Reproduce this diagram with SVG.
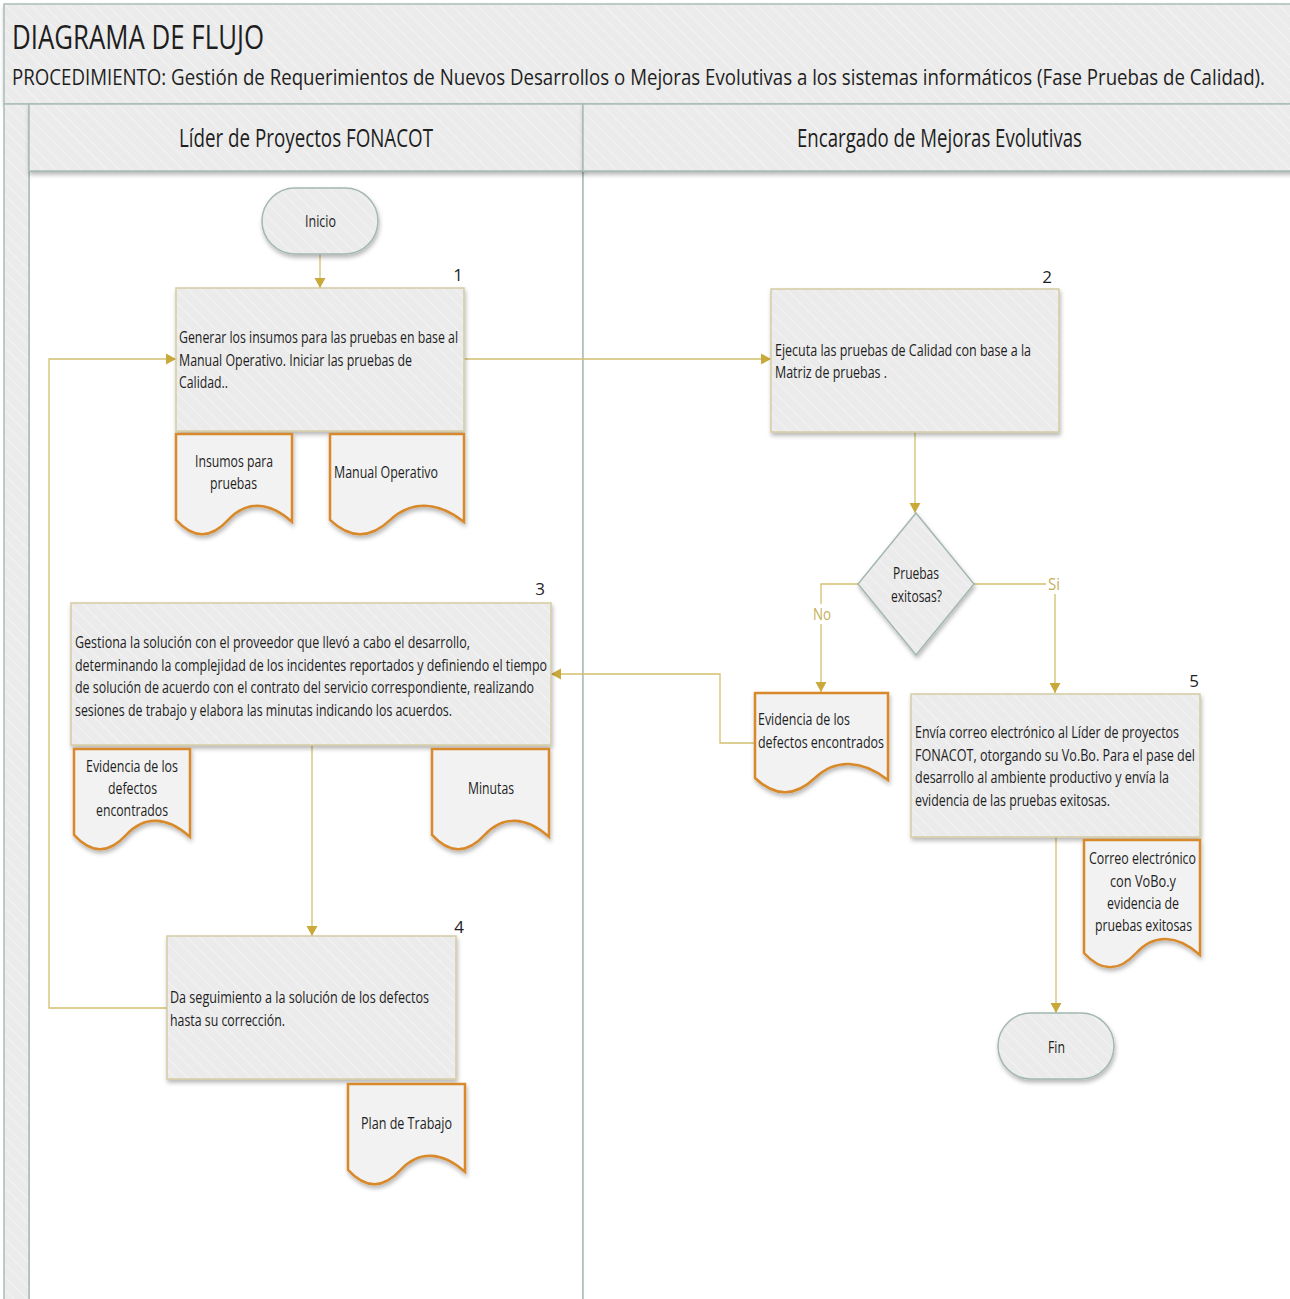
<svg xmlns="http://www.w3.org/2000/svg" width="1290" height="1299" viewBox="0 0 1290 1299">
<defs>
<pattern id="hatch" width="9" height="9" patternUnits="userSpaceOnUse" patternTransform="rotate(-45)">
<rect width="9" height="9" fill="#ebebeb"/>
<line x1="0" y1="0" x2="0" y2="9" stroke="#f5f5f5" stroke-width="1.6"/>
</pattern>
<filter id="sh" x="-10%" y="-10%" width="125%" height="130%">
<feDropShadow dx="1" dy="3" stdDeviation="2" flood-color="#000" flood-opacity="0.28"/>
</filter>
<marker id="arr" markerWidth="12" markerHeight="12" refX="10" refY="6" orient="auto" markerUnits="userSpaceOnUse">
<path d="M0,0.5 L10,6 L0,11.5 z" fill="#c9a93a"/>
</marker>
<style>
.lane{fill:url(#hatch);stroke:#a9bdb7;stroke-width:1.5}
.body{fill:#ffffff;stroke:#a9bdb7;stroke-width:1.5}
.proc{fill:url(#hatch);stroke:#d5cca3;stroke-width:1.5;filter:url(#sh)}
.term{fill:url(#hatch);stroke:#a3b8b0;stroke-width:1.5;filter:url(#sh)}
.doc{fill:#f2f2f2;stroke:#d8892c;stroke-width:2.5;filter:url(#sh)}
.con{fill:none;stroke:#d2bf6e;stroke-width:1.3}
.arr{marker-end:url(#arr)}
text{font-family:"Open Sans","Liberation Sans",sans-serif;fill:#1e1e1e}
.t{font-size:16px}
.n{font-size:17px}
.hd{font-size:25px}
.lbl{font-size:16px;fill:#c4b05a}
</style>
</defs>

<g id="pool">
<rect class="lane" x="4" y="4" width="1296" height="100" filter="url(#sh)"/>
<text x="12" y="49" font-size="33" textLength="252" lengthAdjust="spacingAndGlyphs">DIAGRAMA DE FLUJO</text>
<text x="12" y="85" font-size="22" textLength="1253" lengthAdjust="spacingAndGlyphs">PROCEDIMIENTO: Gestión de Requerimientos de Nuevos Desarrollos o Mejoras Evolutivas a los sistemas informáticos (Fase Pruebas de Calidad).</text>
<rect class="body" x="29" y="171" width="554" height="1135"/>
<rect class="body" x="583" y="171" width="717" height="1135"/>
<rect class="lane" x="4" y="104" width="25" height="1202"/>
<rect class="lane" x="29" y="104" width="554" height="67" filter="url(#sh)"/>
<rect class="lane" x="583" y="104" width="717" height="67" filter="url(#sh)"/>
<text class="hd" x="179" y="147" textLength="254" lengthAdjust="spacingAndGlyphs">Líder de Proyectos FONACOT</text>
<text class="hd" x="797" y="147" textLength="285" lengthAdjust="spacingAndGlyphs">Encargado de Mejoras Evolutivas</text>
</g>

<g id="connectors">
<path class="con arr" d="M320,254 V288"/>
<path class="con arr" d="M464,359 H771"/>
<path class="con arr" d="M915,432 V513"/>
<path class="con arr" d="M858,584 H821 V692"/>
<path class="con arr" d="M974,584 H1055 V693"/>
<path class="con arr" d="M755,743 H720 V674 H551"/>
<path class="con arr" d="M312,745 V936"/>
<path class="con arr" d="M167,1008 H49 V359 H176"/>
<path class="con arr" d="M1056,837 V1013"/>
<rect x="811" y="604" width="21" height="20" fill="#ffffff"/>
<text class="lbl" x="813" y="620" textLength="18" lengthAdjust="spacingAndGlyphs">No</text>
<rect x="1046" y="574" width="16" height="20" fill="#ffffff"/>
<text class="lbl" x="1048" y="590" textLength="12" lengthAdjust="spacingAndGlyphs">Si</text>
</g>

<g id="inicio">
<rect class="term" x="262" y="188" width="116" height="66" rx="33"/>
<text class="t" x="305" y="226.5" textLength="31" lengthAdjust="spacingAndGlyphs">Inicio</text>
</g>

<g id="p1">
<rect class="proc" x="176" y="288" width="288" height="143"/>
<text class="n" x="463" y="281" text-anchor="end">1</text>
<text class="t" x="179" y="343" textLength="279" lengthAdjust="spacingAndGlyphs">Generar los insumos para las pruebas en base al</text>
<text class="t" x="179" y="365.5" textLength="233" lengthAdjust="spacingAndGlyphs">Manual Operativo. Iniciar las pruebas de</text>
<text class="t" x="179" y="388" textLength="49" lengthAdjust="spacingAndGlyphs">Calidad..</text>
</g>

<g id="doc-insumos">
<path class="doc" d="M176,434 H292 V521.9 C268.8,500.7 245.6,500.7 228.2,519.9 C210.8,539 193.4,539 176,519.9 Z"/>
<text class="t" x="195" y="467" textLength="78" lengthAdjust="spacingAndGlyphs">Insumos para</text>
<text class="t" x="210" y="489" textLength="47" lengthAdjust="spacingAndGlyphs">pruebas</text>
</g>

<g id="doc-manual">
<path class="doc" d="M330,434 H464 V521.9 C437.2,500.7 410.4,500.7 390.3,519.9 C370.2,539 350.1,539 330,519.9 Z"/>
<text class="t" x="334" y="478" textLength="104" lengthAdjust="spacingAndGlyphs">Manual Operativo</text>
</g>

<g id="p2">
<rect class="proc" x="771" y="289" width="288" height="143"/>
<text class="n" x="1052" y="283" text-anchor="end">2</text>
<text class="t" x="775" y="355.5" textLength="256" lengthAdjust="spacingAndGlyphs">Ejecuta las pruebas de Calidad con base a la</text>
<text class="t" x="775" y="378" textLength="112" lengthAdjust="spacingAndGlyphs">Matriz de pruebas .</text>
</g>

<g id="decision">
<path class="term" d="M916,513 L974,584 L916,655 L858,584 Z"/>
<text class="t" x="893" y="579" textLength="46" lengthAdjust="spacingAndGlyphs">Pruebas</text>
<text class="t" x="891" y="601.5" textLength="51" lengthAdjust="spacingAndGlyphs">exitosas?</text>
</g>

<g id="doc-evidencia-r">
<path class="doc" d="M755,693 H888 V780 C861.4,759 834.8,759 814.9,778 C794.9,797 775,797 755,778 Z"/>
<text class="t" x="758" y="725" textLength="92" lengthAdjust="spacingAndGlyphs">Evidencia de los</text>
<text class="t" x="758" y="747.5" textLength="126" lengthAdjust="spacingAndGlyphs">defectos encontrados</text>
</g>

<g id="p3">
<rect class="proc" x="71" y="603" width="480" height="142"/>
<text class="n" x="545" y="595" text-anchor="end">3</text>
<text class="t" x="75" y="648" textLength="395" lengthAdjust="spacingAndGlyphs">Gestiona la solución con el proveedor que llevó a cabo el desarrollo,</text>
<text class="t" x="75" y="670.5" textLength="472" lengthAdjust="spacingAndGlyphs">determinando la complejidad de los incidentes reportados y definiendo el tiempo</text>
<text class="t" x="75" y="693" textLength="459" lengthAdjust="spacingAndGlyphs">de solución de acuerdo con el contrato del servicio correspondiente, realizando</text>
<text class="t" x="75" y="715.5" textLength="377" lengthAdjust="spacingAndGlyphs">sesiones de trabajo y elabora las minutas indicando los acuerdos.</text>
</g>

<g id="doc-evidencia-l">
<path class="doc" d="M74,749 H190 V836.9 C166.8,815.7 143.6,815.7 126.2,834.9 C108.8,854 91.4,854 74,834.9 Z"/>
<text class="t" x="86" y="771.5" textLength="92" lengthAdjust="spacingAndGlyphs">Evidencia de los</text>
<text class="t" x="108" y="794" textLength="49" lengthAdjust="spacingAndGlyphs">defectos</text>
<text class="t" x="96" y="816" textLength="72" lengthAdjust="spacingAndGlyphs">encontrados</text>
</g>

<g id="doc-minutas">
<path class="doc" d="M432,749 H549 V836.9 C525.6,815.7 502.2,815.7 484.7,834.9 C467.1,854 449.6,854 432,834.9 Z"/>
<text class="t" x="468" y="794" textLength="46" lengthAdjust="spacingAndGlyphs">Minutas</text>
</g>

<g id="p4">
<rect class="proc" x="167" y="936" width="289" height="143"/>
<text class="n" x="464" y="933" text-anchor="end">4</text>
<text class="t" x="170" y="1003" textLength="259" lengthAdjust="spacingAndGlyphs">Da seguimiento a la solución de los defectos</text>
<text class="t" x="170" y="1025.5" textLength="115" lengthAdjust="spacingAndGlyphs">hasta su corrección.</text>
</g>

<g id="doc-plan">
<path class="doc" d="M348,1084 H465 V1171.9 C441.6,1150.7 418.2,1150.7 400.7,1169.9 C383.1,1189 365.6,1189 348,1169.9 Z"/>
<text class="t" x="361" y="1129" textLength="91" lengthAdjust="spacingAndGlyphs">Plan de Trabajo</text>
</g>

<g id="p5">
<rect class="proc" x="911" y="694" width="289" height="143"/>
<text class="n" x="1199" y="687" text-anchor="end">5</text>
<text class="t" x="915" y="738" textLength="264" lengthAdjust="spacingAndGlyphs">Envía correo electrónico al Líder de proyectos</text>
<text class="t" x="915" y="760.5" textLength="280" lengthAdjust="spacingAndGlyphs">FONACOT, otorgando su Vo.Bo. Para el pase del</text>
<text class="t" x="915" y="783" textLength="254" lengthAdjust="spacingAndGlyphs">desarrollo al ambiente productivo y envía la</text>
<text class="t" x="915" y="805.5" textLength="195" lengthAdjust="spacingAndGlyphs">evidencia de las pruebas exitosas.</text>
</g>

<g id="doc-correo">
<path class="doc" d="M1084,840 H1200 V955 C1176.8,934 1153.6,934 1136.2,953 C1118.8,972 1101.4,972 1084,953 Z"/>
<text class="t" x="1089" y="864" textLength="107" lengthAdjust="spacingAndGlyphs">Correo electrónico</text>
<text class="t" x="1110" y="886.5" textLength="66" lengthAdjust="spacingAndGlyphs">con VoBo.y</text>
<text class="t" x="1107" y="909" textLength="72" lengthAdjust="spacingAndGlyphs">evidencia de</text>
<text class="t" x="1095" y="931" textLength="97" lengthAdjust="spacingAndGlyphs">pruebas exitosas</text>
</g>

<g id="fin">
<rect class="term" x="998" y="1013" width="116" height="66" rx="33"/>
<text class="t" x="1048" y="1052.5" textLength="17" lengthAdjust="spacingAndGlyphs">Fin</text>
</g>
</svg>
